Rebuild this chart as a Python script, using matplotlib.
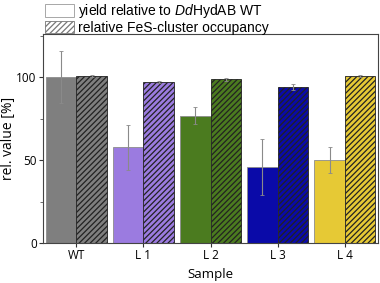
import numpy as np
import matplotlib
matplotlib.use("Agg")
import matplotlib.pyplot as plt
from matplotlib.patches import Patch
from matplotlib.ticker import MultipleLocator

plt.rcParams["font.family"] = ["Liberation Sans", "DejaVu Sans"]
plt.rcParams["mathtext.fontset"] = "custom"
plt.rcParams["mathtext.it"] = "Liberation Sans:italic"
plt.rcParams["mathtext.rm"] = "Liberation Sans"
plt.rcParams["hatch.linewidth"] = 0.9

# data
samples = ["WT", "L 1", "L 2", "L 3", "L 4"]
yield_rel = [100.0, 57.6, 76.7, 46.0, 50.0]
yield_err = [15.5, 13.3, 5.0, 17.0, 8.0]
fes_occ = [100.5, 97.2, 98.6, 94.0, 100.6]
fes_err = [0.5, 0.5, 1.0, 2.0, 0.8]
colors = ["#7f7f7f", "#9b7be0", "#4b7b1f", "#0a0aa8", "#e6c935"]

# =========================================================
# Figure
# =========================================================
fig = plt.figure(figsize=(3.8, 2.83), dpi=100)
ax = fig.add_axes([0.113, 0.141, 0.882, 0.739])

x = np.arange(len(samples))
w = 0.45

ax.bar(x - w / 2, yield_rel, width=w, color=colors,
       edgecolor="#8c8c8c", linewidth=0.6)
ax.bar(x + w / 2, fes_occ, width=w, color=colors,
       edgecolor="#222222", linewidth=0.6, hatch="//////")

ax.errorbar(x - w / 2, yield_rel, yerr=yield_err, fmt="none",
            ecolor="#8a8a8a", elinewidth=0.8, capsize=1.5, capthick=0.6)
ax.errorbar(x + w / 2, fes_occ, yerr=fes_err, fmt="none",
            ecolor="#8a8a8a", elinewidth=0.8, capsize=1.5, capthick=0.6)

ax.set_xlim(-0.5, len(samples) - 0.5)
ax.set_ylim(0, 126)
ax.set_xticks(x)
ax.set_xticklabels(samples, family=["Open Sans", "DejaVu Sans"], fontsize=8.5)
ax.set_yticks([0, 50, 100])
ax.yaxis.set_minor_locator(MultipleLocator(25))
for lab in ax.get_yticklabels():
    lab.set_family(["Open Sans", "DejaVu Sans"])
    lab.set_fontsize(8.5)

ax.tick_params(axis="both", which="major", direction="out", length=3,
               width=0.8, color="#333333", pad=1.5)
ax.tick_params(axis="y", which="minor", direction="out", length=2,
               width=0.6, color="#555555")

ax.set_xlabel("Sample", family=["Open Sans", "DejaVu Sans"], fontsize=9.5,
              labelpad=4)
ax.set_ylabel("rel. value [%]", family=["Open Sans", "DejaVu Sans"],
              fontsize=10, labelpad=0.5)

for s in ax.spines.values():
    s.set_color("#444444")
    s.set_linewidth(0.8)

# legend above the axes
handles = [
    Patch(facecolor="white", edgecolor="#999999", linewidth=0.6),
    Patch(facecolor="white", edgecolor="#777777", linewidth=0.6,
          hatch="//////"),
]
labels = [r"yield relative to $\it{Dd}$HydAB WT",
          "relative FeS-cluster occupancy"]
fig.legend(handles, labels, loc="upper left",
           bbox_to_anchor=(0.112, 1.0), frameon=False, fontsize=10,
           handlelength=2.1, handleheight=1.0, handletextpad=0.3,
           labelspacing=0.05, borderpad=0.15, borderaxespad=0)

fig.savefig("out.png", dpi=100)
